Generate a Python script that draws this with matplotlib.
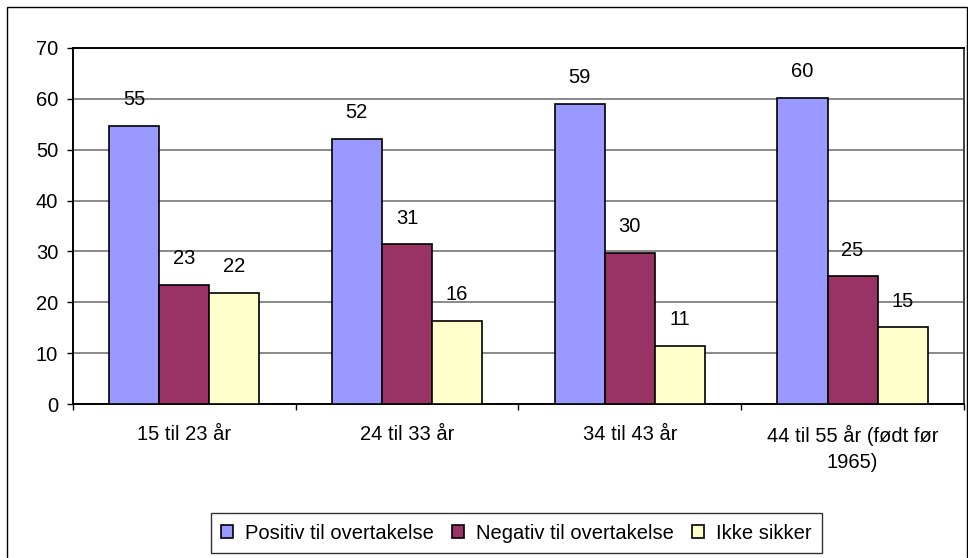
import numpy as np
import matplotlib
matplotlib.use("Agg")
import matplotlib.pyplot as plt
from matplotlib.patches import Rectangle

CATEGORIES = [
    "15 til 23 år",
    "24 til 33 år",
    "34 til 43 år",
    "44 til 55 år (født før\n1965)",
]
SERIES = [
    "Positiv til overtakelse",
    "Negativ til overtakelse",
    "Ikke sikker",
]
POSITIV = [54.6, 52.1, 58.9, 60.1]
NEGATIV = [23.4, 31.4, 29.8, 25.1]
IKKE_SIKKER = [21.9, 16.3, 11.4, 15.1]
COLORS = ["#9999FF", "#993366", "#FFFFCC"]
YTICKS = [0, 10, 20, 30, 40, 50, 60, 70]

FONT = 14.5

plt.rcParams["font.family"] = ["Liberation Sans", "DejaVu Sans"]


def draw_bars(ax, values, width):
    x = np.arange(len(CATEGORIES))
    for k, (vals, name, color) in enumerate(zip(values, SERIES, COLORS)):
        pos = x + (k - 1) * width
        ax.bar(
            pos,
            vals,
            width=width,
            color=color,
            edgecolor="black",
            linewidth=1.2,
            label=name,
            zorder=3,
        )
        for px, v in zip(pos, vals):
            ax.annotate(
                f"{v:.0f}",
                xy=(px, v),
                xytext=(0, 15),
                textcoords="offset points",
                ha="center",
                va="baseline",
                fontsize=FONT,
            )


def style_ax(ax):
    n = len(CATEGORIES)
    ax.set_xlim(-0.5, n - 0.5)
    ax.set_ylim(0, 70)
    ax.set_yticks(YTICKS)
    ax.yaxis.grid(True, color="#767676", linewidth=1.2, zorder=0)
    ax.set_axisbelow(True)

    # labels at the group centres, tick marks at the group edges
    ax.set_xticks(np.arange(n))
    ax.set_xticklabels(CATEGORIES, fontsize=FONT)
    ax.set_xticks(np.arange(n + 1) - 0.5, minor=True)
    ax.tick_params(axis="x", which="major", length=0, pad=15)
    ax.tick_params(axis="x", which="minor", length=4.5, width=1, direction="out")
    ax.tick_params(axis="y", length=4.5, width=1, pad=6, labelsize=FONT)
    for lbl in ax.get_xticklabels():
        lbl.set_linespacing(1.45)

    for side in ["left", "bottom", "top", "right"]:
        ax.spines[side].set_linewidth(1.4)
        ax.spines[side].set_color("black")
    ax.spines["right"].set_color("#404040")


fig = plt.figure(figsize=(9.68, 5.58), dpi=100)
ax = fig.add_axes([0.0751, 0.2754, 0.9208, 0.6391])

draw_bars(ax, [POSITIV, NEGATIV, IKKE_SIKKER], width=0.225)
style_ax(ax)

leg = fig.legend(
    loc="center",
    bbox_to_anchor=(0.5336, 0.0448),
    ncol=3,
    fontsize=FONT,
    frameon=True,
    fancybox=False,
    edgecolor="black",
    handlelength=0.6,
    handleheight=0.6,
    handletextpad=0.6,
    columnspacing=0.9,
    borderpad=0.5,
    borderaxespad=0,
)
leg.get_frame().set_linewidth(1)

# outer chart border (runs past the bottom of the picture)
fig.patches.append(
    Rectangle(
        (7 / 968, -0.05),
        960 / 968,
        1 - 7 / 558 + 0.05,
        transform=fig.transFigure,
        fill=False,
        edgecolor="black",
        linewidth=1,
    )
)

fig.savefig("out.png", dpi=100)
